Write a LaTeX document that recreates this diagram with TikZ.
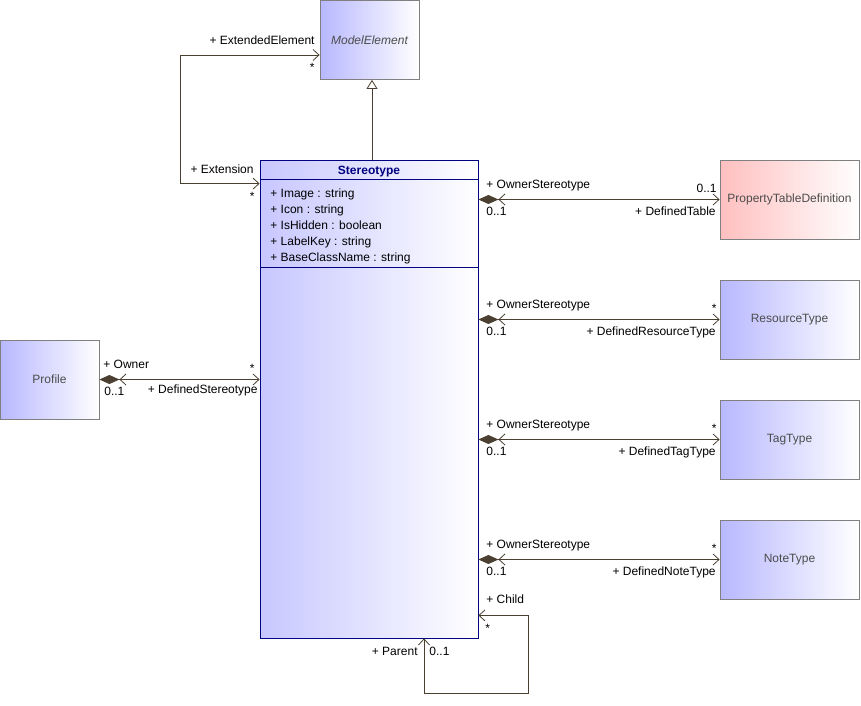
\documentclass[tikz,border=0pt]{standalone}
\usepackage{fontspec}
\setmainfont{Liberation Sans}
\usetikzlibrary{arrows.meta}
\definecolor{lc}{HTML}{4A3F30}
\definecolor{navy}{HTML}{000080}
\definecolor{boxgray}{HTML}{808080}
\begin{document}
\begin{tikzpicture}[x=1pt,y=-1pt,font=\fontsize{12}{14}\selectfont,line width=.8pt,
 >={Straight Barb[length=6pt,width=11pt]},
 cls/.style={draw=boxgray,left color=blue!28,right color=white,minimum width=99pt,minimum height=79pt,inner sep=0pt,text=black!70},
 assoc/.style={draw=lc,<->},
 comp/.style={draw=lc,arrows={{Diamond[length=20pt,width=9pt]Straight Barb[length=6pt,width=11pt]}-{Straight Barb[length=6pt,width=11pt]}}},
 lbl/.style={inner sep=0pt}]
\useasboundingbox (0,0) rectangle (861,705);
% classes
\node[cls,font=\fontsize{12}{14}\selectfont\itshape] (me) at (369.5,40) {ModelElement};
\node[cls] (prof) at (49.5,379.5) {Profile};
\node[cls,minimum width=139pt,left color=red!25] (ptd) at (789.5,199.5) {PropertyTableDefinition};
\node[cls,minimum width=139pt] (rt) at (789.5,319.5) {ResourceType};
\node[cls,minimum width=139pt] (tt) at (789.5,439.5) {TagType};
\node[cls,minimum width=139pt] (nt) at (789.5,559.5) {NoteType};
\node[draw=navy,left color=blue!22,right color=white,minimum width=218pt,minimum height=478pt,inner sep=0pt] (st) at (369,399) {};
\node[lbl,anchor=base,text=navy,font=\fontsize{12}{14}\selectfont\bfseries] (sthead) at (369,174) {Stereotype};
\draw[navy] ([yshift=-20pt]st.north west) -- ([yshift=-20pt]st.north east);
\draw[navy] ([yshift=-108pt]st.north west) -- ([yshift=-108pt]st.north east);
\foreach \t [count=\i] in {Image : string,Icon : string,IsHidden : boolean,LabelKey : string,BaseClassName : string}
  \node[lbl,anchor=base west] (att\i) at (270,181+16*\i) {+ \t};
% generalization and extension
\draw[draw=lc,-{Triangle[open,length=9pt,width=11pt]}] ([xshift=2.5pt]me.south |- st.north) -- ([xshift=2.5pt]me.south);
\draw[assoc] ([yshift=-24pt]st.north west) -- ++(-79,0) |- ([yshift=-15pt]me.west);
\node[lbl,anchor=base east] (ext) at (254,173) {+ Extension};
\node[lbl,anchor=base east] (extm) at (255,200) {*};
\node[lbl,anchor=base east] (exel) at (315,44) {+ ExtendedElement};
\node[lbl,anchor=base east] (exelm) at (315,71) {*};
% profile
\draw[comp] (prof.east) -- (prof.east -| st.west);
\node[lbl,anchor=base west] (own) at (103,368) {+ Owner};
\node[lbl,anchor=base west] (ownm) at (104,395) {0..1};
\node[lbl,anchor=base east] (dsm) at (255,372) {*};
\node[lbl,anchor=base east] (ds) at (258,393) {+ DefinedStereotype};
% owned definitions
\foreach \n/\y/\m/\r in {ptd/200/0..1/DefinedTable,rt/320/*/DefinedResourceType,tt/440/*/DefinedTagType,nt/560/*/DefinedNoteType}{
  \draw[comp] (\n.west -| st.east) -- (\n.west);
  \node[lbl,anchor=base west] (\n-o) at (486,\y-12) {+ OwnerStereotype};
  \node[lbl,anchor=base west] (\n-om) at (486,\y+15) {0..1};
  \node[lbl,anchor=base east] (\n-m) at (717,\y-8) {\m};
  \node[lbl,anchor=base east] (\n-r) at (716,\y+15) {+ \r};
}
% child / parent
\draw[assoc] ([xshift=55pt]st.south) -- ++(0,55) -| ([xshift=50pt,yshift=23pt]st.south east) -- ([yshift=23pt]st.south east);
\node[lbl,anchor=base west] (ch) at (486,603) {+ Child};
\node[lbl,anchor=base west] (chm) at (485,632) {*};
\node[lbl,anchor=base east] (par) at (418,655) {+ Parent};
\node[lbl,anchor=base west] (parm) at (429,655) {0..1};
\end{tikzpicture}
\end{document}
